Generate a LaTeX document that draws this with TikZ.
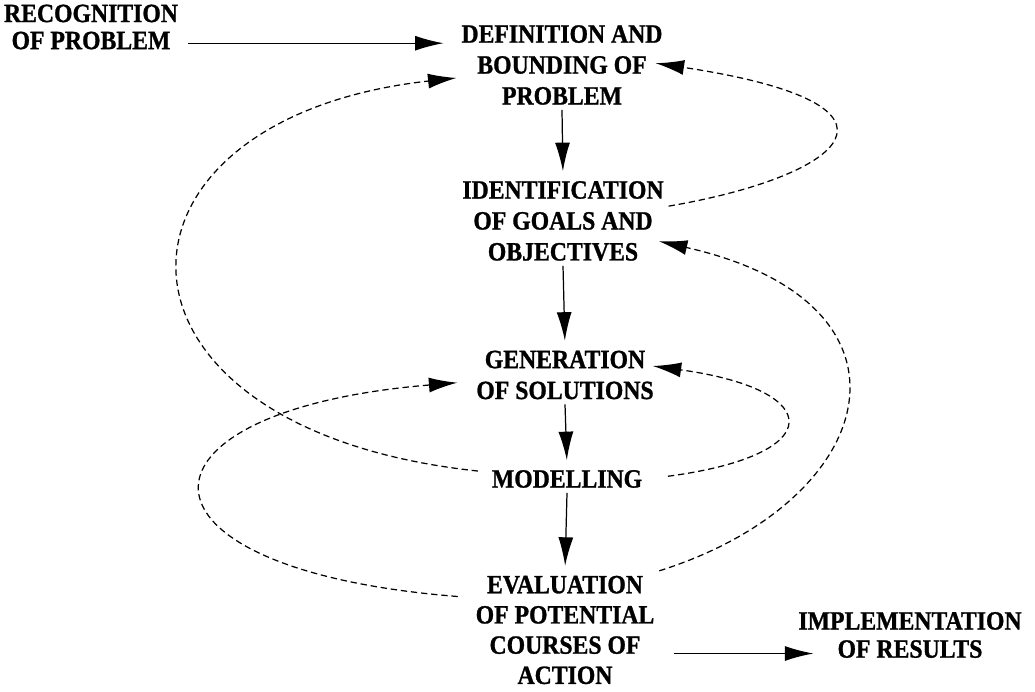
\documentclass[tikz,border=0pt]{standalone}
\usepackage{fontspec}
\setmainfont{Liberation Serif}[FakeStretch=0.9, BoldFeatures={FakeBold=1}]
\usepackage{tikz}
\usetikzlibrary{arrows,arrows.meta}
\usetikzlibrary{calc}

\begin{document}
\begin{tikzpicture}[x=0.02cm, y=-0.02cm,
    stage/.style={font=\fontsize{15}{17.6}\selectfont\bfseries, align=center, inner sep=0pt, outer sep=0.1cm},
    flow/.style={line width=0.7pt, -{Latex[length=0.57cm, width=0.3cm]}, shorten >=0.1cm},
    feedback/.style={flow, dash pattern=on 3.6pt off 2.2pt, shorten >=0pt}]

    \useasboundingbox (0,0) rectangle (1035,692);

    \node[stage, font=\fontsize{15}{15.4}\selectfont\bfseries] (rec) at (91,27) {RECOGNITION\\OF PROBLEM};
    \node[stage] (def) at (562,65) {DEFINITION AND\\BOUNDING OF\\PROBLEM};
    \node[stage] (ide) at (563,221) {IDENTIFICATION\\OF GOALS AND\\OBJECTIVES};
    \node[stage] (gen) at (565,375) {GENERATION\\OF SOLUTIONS};
    \node[stage] (mod) at (567,479) {MODELLING};
    \node[stage, font=\fontsize{15}{17.2}\selectfont\bfseries] (eva) at (565,630) {EVALUATION\\OF POTENTIAL\\COURSES OF\\ACTION};
    \node[stage, font=\fontsize{15}{16}\selectfont\bfseries, outer sep=0pt] (imp) at (910,635) {IMPLEMENTATION\\OF RESULTS};

    \draw[flow, shorten <=0.1cm, shorten >=0.26cm] (rec.350) -- (rec.350 -| def.west);
    \draw[flow] (def.south) -- (ide.north);
    \draw[flow] (ide.south) -- (gen.north);
    \draw[flow] (gen.south) -- (mod.north);
    \draw[flow] (mod.south) -- (eva.north);
    \draw[flow, shorten <=0.3cm, shorten >=-0.3cm] (eva.346) -- (eva.346 -| imp.west);

    \draw[feedback, shorten <=0.18cm] (mod.175) .. controls +(-405,-43) and +(-371,41) .. (def.187);
    \draw[feedback, shorten <=0.26cm, shorten >=0.28cm] (eva.161) .. controls +(-356,-28) and +(-353,29) .. (gen.184);
    \draw[feedback, shorten <=0.42cm, shorten >=-0.12cm] (mod.east) .. controls +(182,-24) and +(167,23) .. (gen.5);
    \draw[feedback, shorten >=-0.24cm] (ide.8) .. controls +(175,-30) and +(265,40) .. (def.east);
    \draw[feedback, shorten >=-0.2cm] (eva.north east) .. controls +(222,-70) and +(265,60) .. (ide.348);

\end{tikzpicture}
\end{document}
